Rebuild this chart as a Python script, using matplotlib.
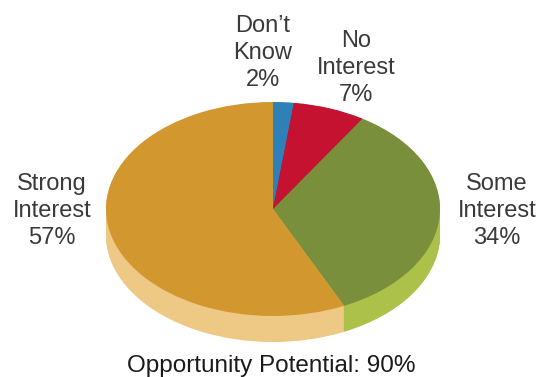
import matplotlib.pyplot as plt
import numpy as np

labels = ["Don\u2019t\nKnow\n2%", "No\nInterest\n7%", "Some\nInterest\n34%", "Strong\nInterest\n57%"]
values = [2, 7, 34, 57]
top_colors = ["#2f7fb8", "#c41230", "#7a8f3c", "#d3972f"]
side_colors = ["#2a6fa0", "#a50f28", "#abc14a", "#eec885"]
title = "Opportunity Potential: 90%"

# label positions (pixels from top-left)
label_xy = [(263, 53), (356, 68), (497, 211), (52, 211)]

W, H = 539, 377
cx, cy = 273, 209      # pie centre in pixels
rx, ry = 167, 107      # ellipse radii in pixels
depth = 26 / ry        # side thickness in pie units

fig = plt.figure(figsize=(W / 100, H / 100), dpi=100)
ax = fig.add_axes([0, 0, 1, 1])

# side: stack of pies pushed downward
for off in np.linspace(depth, 0.005, 40):
    ax.pie(values, colors=side_colors, startangle=90, counterclock=False,
           center=(0, -off), radius=1, frame=True,
           wedgeprops=dict(linewidth=0))
# top face
ax.pie(values, colors=top_colors, startangle=90, counterclock=False,
       center=(0, 0), radius=1, frame=True,
       wedgeprops=dict(linewidth=0))

ax.set_aspect('auto')
ax.set_xlim(-cx / rx, (W - cx) / rx)
ax.set_ylim(-(H - cy) / ry, cy / ry)
ax.axis('off')

for lab, (x, y) in zip(labels, label_xy):
    fig.text(x / W, 1 - y / H, lab, ha='center', va='center', fontsize=17,
             family='Liberation Sans', color='#3a3a3a', linespacing=1.32)

fig.text(271 / W, 1 - 366 / H, title, ha='center', va='center', fontsize=17.5,
         family='Liberation Sans', color='#1a1a1a')

fig.savefig('out.png', dpi=100)
